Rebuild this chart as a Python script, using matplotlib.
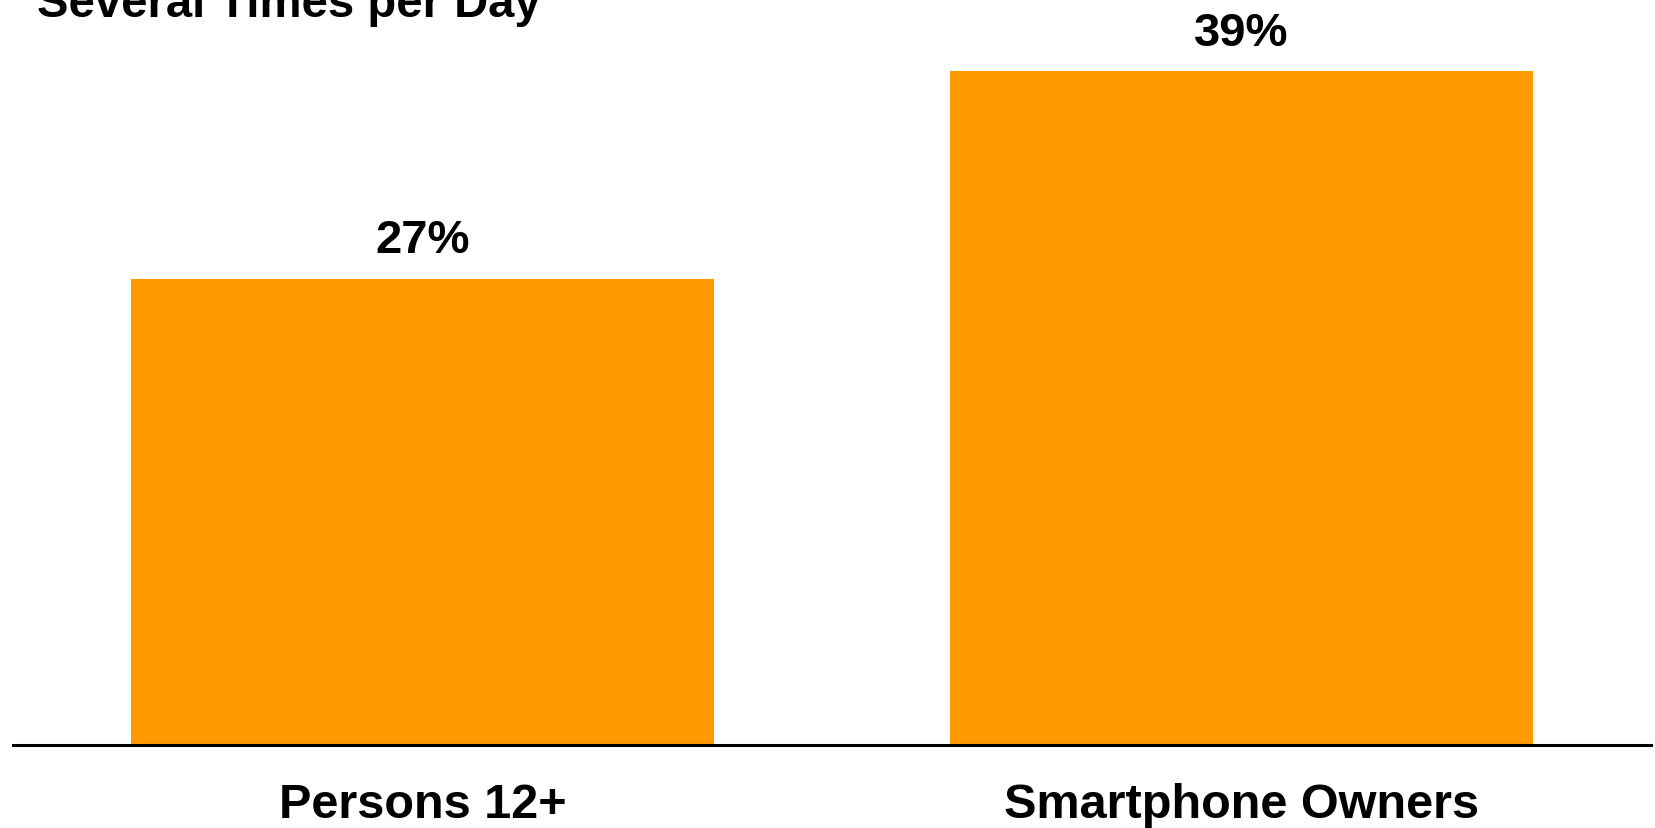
import matplotlib
matplotlib.use("Agg")
import matplotlib.pyplot as plt

# ----------------------------------------------------------------------
# Data
# ----------------------------------------------------------------------
categories = ["Persons 12+", "Smartphone Owners"]
values = [27, 39]
labels = ["27%", "39%"]
title = "Several Times per Day"

plt.rcParams["font.family"] = ["Liberation Sans", "DejaVu Sans"]

W, H = 1655, 829
fig = plt.figure(figsize=(W / 100, H / 100), dpi=100)
ax = fig.add_axes([13 / W, (H - 746) / H, (1651 - 13) / W, 746 / H])

x = list(range(len(categories)))
ax.bar(x, values, width=0.713, color="#FF9900")

ax.set_xlim(-0.5, 1.5)
ax.set_ylim(0, 746 / 17.27)

for xi, v, lab in zip(x, values, labels):
    ax.annotate(lab, (xi, v), xytext=(0, 19), textcoords="offset points",
                ha="center", va="baseline", fontsize=34, fontweight="bold")

ax.set_xticks(x)
ax.set_xticklabels(categories, fontsize=35, fontweight="bold")
ax.tick_params(axis="x", length=0, pad=27)
ax.set_yticks([])

for s in ["top", "right", "left"]:
    ax.spines[s].set_visible(False)
ax.spines["bottom"].set_linewidth(2.2)

fig.text(37 / W, 1 - 17 / H, title, fontsize=34, fontweight="bold",
         ha="left", va="baseline")

fig.savefig("out.png", dpi=100)
